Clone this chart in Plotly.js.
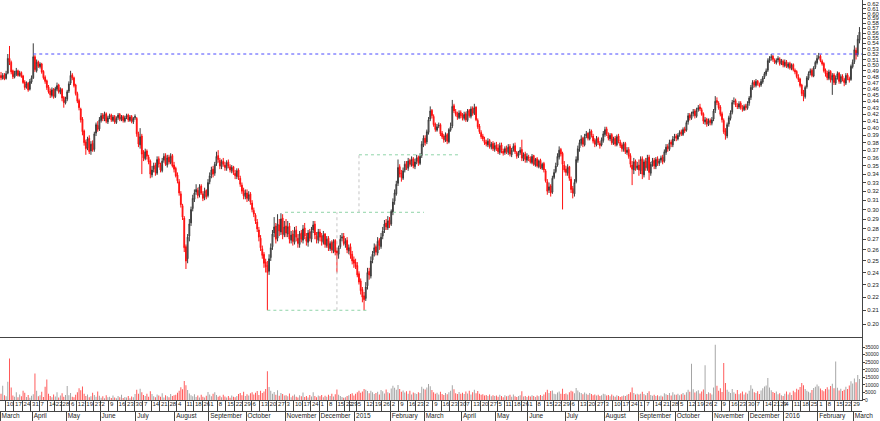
<!DOCTYPE html>
<html><head><meta charset="utf-8">
<script src="https://cdn.plot.ly/plotly-3.0.1.min.js"></script>
<style>html,body{margin:0;padding:0;background:#fff}#chart{width:880px;height:421px}</style>
</head><body><div id="chart"></div>
<script>
// ---- data: daily candles, first trading day 2014-03-05 (UK calendar) ----
const startDate = '2014-03-05';
const holidays = ['2014-04-18','2014-04-21','2014-05-05','2014-05-26','2014-08-25','2014-12-25','2014-12-26',
  '2015-01-01','2015-04-03','2015-04-06','2015-05-04','2015-05-25','2015-08-31','2015-12-25','2015-12-28','2016-01-01'];

const open = [
.482,.477,.483,.477,.486,.512,.505,.490,.479,.484,.490,.482,.487,.481,.471,.462,.469,.459,.471,
.478,.515,.490,.506,.497,.502,.489,.479,.473,.463,.456,.449,.459,.447,.459,.466,.454,.459,.446,.437,
.443,.456,.469,.483,.478,.466,.452,.441,.428,.413,.396,.381,.373,.386,.369,.379,.371,.393,.404,.399,
.411,.419,.413,.421,.409,.416,.419,.411,.417,.408,.415,.420,.412,.417,.410,.416,.419,.411,.417,.409,.415,
.414,.392,.377,.389,.366,.359,.369,.361,.356,.339,.346,.351,.341,.359,.351,.344,.357,.363,.351,.361,.354,.363,.351,
.347,.339,.331,.317,.304,.291,.263,.252,.273,.286,.301,.311,.319,.321,.316,.326,.317,.313,.321,.315,
.331,.339,.346,.341,.353,.363,.357,.349,.356,.351,.347,.355,.349,.344,.349,.341,.337,.345,.335,.327,.321,.314,
.318,.311,.317,.307,.299,.294,.287,.279,.271,.261,.256,.249,.246,.241,.253,.263,.276,.283,.271,.284,.277,.291,.274,
.283,.275,.283,.269,.275,.267,.279,.271,.265,.276,.269,.281,.272,.267,.277,.270,.279,.285,.273,.269,
.277,.273,.267,.275,.264,.271,.261,.267,.259,.269,.259,.256,.263,.271,.273,.265,.269,.259,.263,.256,.251,
.249,.246,.239,.233,.226,.221,.219,.229,.241,.237,.251,.257,.263,.257,.269,.263,.273,.279,.286,.281,.289,
.285,.297,.309,.317,.329,.349,.341,.335,.345,.353,.347,.357,.351,.359,.349,.356,.361,.353,.363,.377,
.386,.381,.394,.413,.426,.417,.406,.397,.403,.405,.393,.389,.383,.391,.381,.397,.403,.433,.424,.421,.415,.423,
.419,.414,.421,.411,.426,.417,.429,.421,.431,.411,.403,.394,.389,.384,.381,.377,.383,.374,.379,.371,
.377,.373,.367,.377,.369,.367,.373,.367,.375,.364,.371,.376,.367,.363,.367,.371,.359,.365,.357,
.361,.359,.354,.363,.351,.359,.349,.357,.347,.353,.344,.331,.321,.326,.319,.336,.343,.351,.361,.371,.366,.351,
.346,.341,.349,.334,.323,.317,.331,.357,.373,.379,.386,.377,.389,.393,.385,.396,.389,.383,.377,.386,.379,.377,.383,
.391,.399,.391,.385,.391,.379,.386,.377,.389,.381,.377,.371,.379,.367,.371,.363,.351,.345,.356,.347,
.351,.344,.359,.339,.356,.347,.361,.341,.353,.357,.349,.359,.353,.357,.361,.356,.367,.375,.371,.381,.377,.386,
.389,.385,.391,.395,.391,.399,.397,.409,.419,.414,.421,.425,.417,.427,.431,.427,.421,.409,.413,.405,.411,.407,
.413,.426,.441,.437,.431,.421,.411,.396,.389,.406,.414,.423,.439,.441,.433,.431,.437,.429,.427,.433,.429,
.437,.446,.461,.471,.465,.473,.467,.466,.471,.479,.484,.491,.507,.513,.516,.509,.504,.509,.511,.503,.507,
.499,.506,.497,.503,.494,.501,.491,.489,.479,.476,.466,.453,.447,.463,.477,.486,.491,.481,.496,.504,
.513,.516,.507,.503,.491,.486,.477,.489,.474,.483,.469,.479,.486,.471,.481,.475,.469,.483,.477,.475,.497,
.506,.527,.519,.546];

const high = [
.488,.486,.486,.490,.520,.535,.508,.492,.490,.495,.492,.490,.489,.483,.474,.472,.471,.476,.482,
.540,.518,.510,.508,.505,.504,.491,.482,.475,.466,.460,.462,.461,.463,.470,.468,.462,.461,.448,.447,
.458,.472,.490,.486,.480,.468,.455,.444,.430,.416,.398,.384,.388,.390,.382,.383,.395,.408,.410,.416,
.422,.422,.424,.423,.418,.421,.421,.419,.419,.417,.422,.422,.419,.419,.418,.421,.421,.419,.419,.416,.420,
.416,.395,.400,.392,.370,.372,.371,.364,.358,.350,.354,.354,.362,.362,.354,.360,.366,.366,.364,.364,.366,.365,.355,
.349,.342,.334,.320,.306,.293,.265,.275,.290,.303,.316,.322,.328,.324,.328,.328,.320,.324,.322,.334,
.342,.349,.350,.355,.368,.370,.360,.358,.360,.355,.357,.358,.352,.351,.350,.345,.347,.347,.338,.330,.324,.322,
.322,.320,.319,.310,.302,.296,.290,.282,.274,.264,.258,.252,.250,.256,.266,.279,.292,.286,.295,.290,.296,.295,.288,
.290,.288,.286,.278,.279,.282,.283,.275,.278,.279,.284,.286,.276,.279,.280,.282,.288,.288,.277,.280,
.280,.276,.278,.276,.273,.273,.268,.269,.270,.270,.262,.264,.274,.276,.276,.271,.272,.265,.266,.259,.254,
.252,.249,.241,.235,.228,.224,.232,.244,.244,.254,.259,.266,.265,.272,.271,.276,.282,.289,.290,.293,.292,
.300,.312,.322,.332,.358,.352,.345,.348,.356,.356,.360,.359,.362,.361,.359,.364,.363,.366,.382,.390,
.390,.398,.416,.432,.428,.420,.408,.406,.408,.407,.396,.392,.394,.393,.400,.408,.442,.436,.428,.424,.426,.426,
.422,.424,.424,.428,.428,.432,.432,.436,.432,.414,.406,.397,.392,.388,.384,.386,.385,.381,.382,.380,
.381,.378,.380,.380,.372,.375,.376,.378,.378,.373,.379,.380,.369,.369,.374,.384,.367,.368,.366,
.364,.362,.365,.364,.360,.361,.358,.359,.354,.355,.346,.334,.330,.328,.338,.346,.354,.366,.375,.373,.368,.356,
.350,.352,.350,.337,.326,.334,.362,.376,.384,.390,.388,.392,.396,.394,.399,.398,.392,.386,.389,.388,.382,.387,.396,
.402,.402,.394,.393,.393,.388,.389,.391,.392,.384,.380,.381,.381,.374,.374,.366,.356,.360,.358,.355,
.358,.362,.362,.358,.360,.364,.364,.355,.360,.360,.361,.362,.359,.363,.364,.371,.378,.378,.384,.384,.389,.392,
.392,.393,.397,.398,.401,.402,.411,.422,.422,.424,.428,.428,.430,.434,.436,.430,.423,.416,.415,.414,.414,.416,
.428,.448,.446,.440,.434,.424,.414,.400,.408,.418,.426,.442,.446,.444,.437,.440,.440,.434,.435,.436,.440,
.448,.466,.474,.474,.476,.474,.470,.476,.481,.488,.494,.512,.516,.520,.518,.512,.512,.516,.514,.511,.510,
.510,.509,.505,.506,.503,.503,.494,.491,.484,.478,.468,.458,.465,.481,.489,.494,.494,.498,.508,.518,
.522,.519,.510,.505,.494,.490,.492,.491,.486,.486,.482,.489,.488,.484,.484,.478,.486,.486,.480,.501,.510,
.536,.532,.556,.572];

const low = [
.474,.475,.474,.475,.484,.500,.484,.476,.477,.481,.480,.480,.478,.468,.458,.460,.455,.457,.468,
.476,.488,.487,.495,.494,.485,.475,.468,.458,.452,.445,.446,.444,.445,.456,.452,.451,.440,.430,.435,
.440,.453,.466,.474,.462,.449,.437,.426,.408,.390,.376,.364,.370,.365,.364,.368,.368,.389,.395,.396,
.408,.410,.410,.407,.406,.413,.409,.409,.406,.406,.412,.410,.410,.408,.408,.413,.409,.409,.407,.406,.412,
.388,.374,.372,.340,.356,.357,.358,.352,.335,.336,.342,.338,.339,.348,.342,.342,.354,.350,.348,.352,.352,.348,.342,
.336,.329,.315,.302,.289,.258,.243,.248,.268,.283,.298,.308,.316,.312,.313,.316,.309,.310,.311,.313,
.328,.335,.336,.338,.350,.354,.346,.346,.349,.344,.344,.347,.342,.341,.339,.334,.334,.333,.325,.317,.311,.311,
.308,.309,.305,.297,.292,.285,.277,.268,.259,.252,.244,.240,.210,.238,.250,.260,.272,.266,.268,.273,.274,.270,.272,
.272,.272,.266,.266,.264,.265,.268,.262,.262,.267,.266,.270,.264,.263,.268,.267,.276,.270,.266,.266,
.268,.264,.265,.262,.262,.259,.259,.257,.257,.255,.240,.252,.261,.268,.264,.262,.257,.256,.252,.247,.244,
.243,.236,.230,.222,.216,.210,.217,.226,.234,.235,.248,.254,.255,.255,.260,.261,.270,.276,.279,.279,.281,
.283,.294,.305,.315,.326,.336,.331,.333,.342,.345,.344,.349,.349,.347,.346,.352,.350,.351,.360,.374,
.376,.378,.391,.410,.414,.402,.395,.395,.400,.389,.385,.380,.381,.378,.379,.395,.400,.422,.417,.412,.413,.414,
.411,.411,.409,.409,.415,.414,.418,.419,.410,.399,.392,.385,.382,.377,.375,.374,.372,.371,.369,.368,
.369,.365,.364,.366,.363,.364,.365,.364,.362,.361,.368,.365,.359,.360,.364,.356,.356,.354,.354,
.356,.353,.352,.350,.349,.348,.347,.346,.345,.342,.330,.316,.318,.314,.317,.334,.341,.349,.358,.362,.300,.342,
.338,.338,.332,.318,.312,.314,.329,.354,.368,.376,.374,.375,.386,.383,.383,.387,.379,.374,.375,.377,.372,.375,.380,
.388,.389,.383,.382,.377,.377,.375,.375,.379,.373,.368,.368,.365,.364,.359,.348,.327,.340,.344,.345,
.338,.340,.334,.336,.344,.344,.333,.338,.349,.346,.346,.350,.350,.354,.352,.354,.364,.368,.369,.374,.374,.382,
.382,.383,.388,.389,.389,.393,.395,.405,.411,.412,.417,.414,.415,.424,.425,.418,.406,.405,.402,.403,.404,.404,
.410,.422,.434,.427,.417,.408,.392,.384,.386,.402,.411,.420,.435,.431,.428,.428,.427,.424,.425,.426,.427,
.433,.442,.458,.462,.462,.465,.462,.463,.468,.476,.481,.488,.504,.508,.506,.502,.501,.505,.499,.500,.496,
.496,.495,.494,.492,.491,.489,.484,.477,.471,.462,.448,.440,.444,.460,.474,.482,.479,.479,.493,.501,
.510,.505,.499,.487,.480,.474,.474,.470,.450,.466,.466,.475,.468,.468,.472,.464,.466,.474,.470,.473,.494,
.502,.510,.515,.540];

const close = [
.478,.482,.476,.485,.512,.505,.488,.480,.485,.490,.482,.486,.480,.470,.462,.468,.458,.472,.478,
.515,.492,.505,.498,.502,.488,.478,.472,.462,.455,.450,.458,.448,.460,.465,.455,.458,.445,.438,.442,
.455,.468,.482,.478,.465,.452,.440,.430,.412,.395,.380,.372,.385,.368,.378,.370,.392,.405,.398,.412,
.418,.414,.420,.410,.415,.418,.412,.416,.409,.414,.419,.413,.416,.411,.415,.418,.412,.416,.410,.414,.417,
.392,.378,.388,.365,.360,.368,.362,.355,.340,.345,.350,.342,.358,.352,.345,.356,.362,.352,.360,.355,.362,.350,.346,
.338,.332,.318,.305,.292,.262,.250,.272,.285,.300,.312,.318,.322,.315,.325,.318,.312,.320,.314,.330,
.338,.345,.340,.352,.362,.358,.350,.355,.352,.348,.354,.350,.345,.348,.342,.338,.344,.336,.328,.320,.315,.318,
.312,.316,.308,.300,.295,.288,.280,.272,.262,.255,.248,.245,.240,.252,.262,.275,.282,.270,.285,.278,.290,.275,.282,
.276,.282,.270,.274,.268,.278,.272,.266,.275,.270,.280,.273,.268,.276,.271,.278,.284,.274,.270,.277,
.272,.268,.274,.265,.270,.262,.266,.260,.268,.258,.255,.262,.270,.272,.266,.268,.260,.262,.255,.250,.248,
.245,.238,.232,.225,.220,.218,.228,.240,.238,.250,.256,.262,.258,.268,.264,.272,.278,.285,.282,.288,.284,
.298,.308,.318,.328,.348,.340,.336,.344,.352,.348,.356,.352,.358,.350,.355,.360,.354,.362,.378,.386,
.380,.395,.412,.425,.418,.405,.398,.402,.404,.392,.388,.384,.390,.382,.398,.402,.432,.425,.420,.416,.422,.418,
.415,.420,.412,.425,.418,.428,.422,.430,.412,.402,.395,.388,.385,.380,.378,.382,.375,.378,.372,.376,
.372,.368,.376,.370,.366,.372,.368,.374,.365,.370,.375,.368,.362,.366,.370,.360,.364,.358,.362,
.360,.355,.362,.352,.358,.350,.356,.348,.352,.345,.332,.320,.325,.318,.335,.342,.350,.362,.370,.365,.352,.345,
.342,.348,.335,.322,.318,.330,.358,.372,.380,.385,.378,.388,.392,.386,.395,.390,.382,.378,.385,.380,.376,.384,.392,
.398,.392,.386,.390,.380,.385,.378,.388,.382,.376,.372,.378,.368,.370,.362,.352,.346,.355,.348,.350,
.345,.358,.340,.355,.348,.360,.342,.352,.356,.350,.358,.354,.356,.360,.355,.368,.374,.372,.380,.378,.385,.388,
.386,.390,.394,.392,.398,.396,.408,.418,.415,.420,.424,.418,.426,.430,.428,.420,.410,.412,.406,.410,.408,.412,
.425,.440,.438,.430,.420,.412,.395,.390,.405,.415,.422,.438,.440,.434,.432,.436,.430,.428,.432,.430,.436,
.445,.462,.470,.466,.472,.468,.465,.472,.478,.485,.490,.508,.512,.515,.510,.505,.508,.512,.502,.508,.500,
.505,.498,.502,.495,.500,.492,.488,.480,.475,.465,.452,.448,.462,.478,.485,.490,.482,.495,.505,.512,
.515,.508,.502,.490,.485,.478,.488,.475,.482,.470,.478,.485,.472,.480,.476,.470,.482,.478,.474,.498,.505,
.528,.518,.548,.562];

const volume = [
4200,9500,3100,2500,12000,27500,8200,3000,2200,5200,1800,3600,2400,6100,4800,2000,3300,1500,2800,
3800,17500,6200,2400,3100,5400,2000,8800,13500,4200,2600,1900,3700,2300,5100,1600,2900,4400,2100,3300,
9200,3100,4600,2200,1800,3500,5200,7800,6400,8900,4100,2700,3600,1900,2500,4800,3300,2100,5600,2800,
1500,2400,1200,3100,1800,2200,1400,2900,1700,1100,2600,1900,3400,1300,2000,1600,2700,1200,2300,1800,3900,
6800,4200,7500,5100,3300,2600,4100,2200,5800,3900,2400,1800,3600,2900,2100,4500,1700,3200,2500,1900,4000,2700,3100,
3500,4800,6200,8400,7100,12500,9800,6600,4300,3100,2500,3800,2000,2900,1700,3400,2200,1600,2800,5300,
3600,2400,4100,5200,3300,2100,2800,1900,3500,2300,1700,2600,1500,3000,2200,1800,2700,3900,4600,3100,5400,2600,
3800,2900,4400,5100,3700,4800,5900,3300,6100,4700,5600,7200,19000,8600,6200,4100,5300,3500,6400,2800,4600,3900,3000,
3200,2500,4300,1900,2800,3600,2200,1700,3100,2400,4900,2000,2700,1600,3300,2300,5100,2600,1800,2900,
2400,3300,1900,2800,2100,3500,2600,4200,2300,3800,6900,3400,2700,2000,1500,1800,2600,3100,3900,4500,2900,
4100,5200,6100,4800,5600,7300,6800,5900,4400,6200,5100,3900,4700,5500,3600,6600,5800,4300,6900,5200,4500,
7600,9400,8100,6800,9900,7200,5400,6300,4900,5800,4200,6100,3700,5000,4400,3900,5200,4600,8700,7400,
6900,8200,10500,9100,6600,5200,4100,4800,3600,5500,4000,3300,4700,3800,5100,6200,9700,7100,4500,3900,5300,4200,
4800,3900,5600,4300,6100,3700,5200,6800,4500,5900,4100,3400,3800,2900,3300,2600,3600,2400,3100,2700,
2900,2200,3400,2600,1900,3100,2400,2800,3500,2100,3700,2500,2000,2700,3200,5800,2300,2600,2000,
2800,2300,3100,2600,2000,2900,2400,3300,2700,3600,5100,6800,4700,5900,6300,4200,3800,4900,5600,4100,7400,3900,
4300,3600,5200,6100,5700,4400,7900,6300,5100,4600,3800,5000,4200,3500,4700,3900,3200,3700,2900,3400,2600,3100,4100,
3800,2900,3300,2500,3600,2800,2200,3100,2600,2000,2400,3000,2700,3500,3900,5200,8300,4600,3700,4200,
3600,4100,5400,3900,3100,4700,5800,3300,2800,3500,2600,3200,2400,2900,2300,4400,3800,3300,4600,3000,5100,3700,
3400,4200,3100,3800,4600,3500,5200,6800,5500,24000,7100,4900,5800,6400,4300,5600,6900,23000,3900,5100,4400,3600,
8200,36500,9400,6100,7700,5300,24500,11200,6800,5400,4700,7300,5100,4200,6600,3800,4500,5700,3600,4900,4100,
6200,9800,7400,5100,4600,5800,3900,6300,7700,8900,9600,14500,8200,6400,5300,4700,5600,3800,4400,3200,2600,
4100,5600,3700,4900,3300,6200,5100,7400,6800,8600,11300,9700,7200,6100,5400,4800,6600,7900,8800,10200,
9100,7600,6400,5800,7200,8400,6900,9300,10800,7700,25500,8100,6300,7400,5900,6800,8700,7300,9600,12400,10900,
14200,11800,16500,13900];

const monthNames = ['January','February','March','April','May','June','July','August','September','October','November','December'];
const priceTicks = [0.20,0.21,0.22,0.23,0.24,0.25,0.26,0.27,0.28,0.29,0.30,0.31,0.32,0.33,0.34,0.35,0.36,0.37,0.38,0.39,0.40,
  0.41,0.42,0.43,0.44,0.45,0.46,0.47,0.48,0.49,0.50,0.51,0.52,0.53,0.54,0.55,0.56,0.57,0.58,0.59,0.60,0.61,0.62];
const volumeTicks = [0,5000,10000,15000,20000,25000,30000,35000];

// drawn guide lines (trading-day index positions, price levels)
const guideX = [[19,507.5],[157,216.3],[198,198],[167.4,249.3],[211,211],[211,271.1]];
const guideY = [[0.52,0.52],[0.21,0.21],[0.21,0.297],[0.297,0.297],[0.297,0.364],[0.364,0.364]];
const guideKind = ['blue','green','grey','green','grey','green'];

// ---- build trading calendar ----
const N = close.length;
if (![open,high,low,volume].every(a=>a.length===N)) {
  throw new Error('length mismatch '+[open.length,high.length,low.length,close.length,volume.length].join(','));
}
const dates = [];
{
  const d = new Date(startDate+'T00:00:00Z');
  while (dates.length < N) {
    const wd = d.getUTCDay();
    const s = d.toISOString().slice(0,10);
    if (wd!==0 && wd!==6 && holidays.indexOf(s)<0) dates.push(new Date(d.getTime()));
    d.setUTCDate(d.getUTCDate()+1);
  }
}
const idx = dates.map((_,i)=>i);
const weekVals=[], weekText=[], monthVals=[], monthText=[];
dates.forEach((d,i)=>{
  if (i>0) {
    const p = dates[i-1];
    if ((d - p) > 3*86400000 || d.getUTCDay() < p.getUTCDay()) { weekVals.push(i); weekText.push(String(d.getUTCDate())); }
  }
  if (i===0 || d.getUTCMonth()!==dates[i-1].getUTCMonth()) {
    monthVals.push(i);
    monthText.push(d.getUTCMonth()===0 ? String(d.getUTCFullYear()) : monthNames[d.getUTCMonth()]);
  }
});

const FONT = 'Liberation Sans, Arial, sans-serif';
const traces = [];
traces.push({
  type:'candlestick', x: idx, open: open, high: high, low: low, close: close,
  xaxis:'x', yaxis:'y', whiskerwidth:0,
  increasing:{line:{color:'#3a3a3a',width:1}, fillcolor:'#a8a8a8'},
  decreasing:{line:{color:'#ff1010',width:1}, fillcolor:'#ff1010'},
  hoverinfo:'skip'
});
traces.push({
  type:'bar', x: idx, y: volume, xaxis:'x2', yaxis:'y2', width:0.55,
  marker:{color: close.map((c,i)=> c>=open[i] ? '#a0a0a0' : '#ff5050'), line:{width:0}},
  hoverinfo:'skip'
});
const guideColors = {blue:'#4a4aff', green:'#8fd4a8', grey:'#c4c4c4'};
guideX.forEach((gx,k)=>{
  traces.push({type:'scatter', mode:'lines', x: gx, y: guideY[k], xaxis:'x', yaxis:'y',
    line:{color: guideColors[guideKind[k]], width:1, dash:'dot'}, hoverinfo:'skip'});
});

const xr = [-0.6, 507.5];
const layout = {
  width:880, height:421, margin:{l:0,r:18,t:0,b:10}, paper_bgcolor:'#fff', plot_bgcolor:'#fff',
  showlegend:false, font:{family:FONT, size:6, color:'#222'},
  xaxis:{domain:[0,1], range:xr, anchor:'free', position:0, rangeslider:{visible:false},
    showgrid:false, zeroline:false, showline:true, linecolor:'#444', linewidth:1,
    tickmode:'array', tickvals: monthVals, ticktext: monthText, ticks:'', tickangle:0,
    ticklabelposition:'outside right', ticklabelstandoff:-2, tickfont:{size:6.5, color:'#222', family:FONT},
    minor:{tickmode:'array', tickvals: monthVals.map(v=>v-0.5), ticks:'outside', ticklen:10, tickcolor:'#444', showgrid:false}},
  xaxis2:{domain:[0,1], range:xr, matches:'x', anchor:'y2', showgrid:false, zeroline:false,
    showline:true, mirror:true, linecolor:'#444', linewidth:1,
    tickmode:'array', tickvals: weekVals, ticktext: weekText, ticks:'', tickangle:0,
    ticklabelposition:'outside right', ticklabelstandoff:-2, tickfont:{size:6, color:'#222', family:FONT},
    minor:{tickmode:'array', tickvals: weekVals.map(v=>v-0.5), ticks:'outside', ticklen:11, tickcolor:'#444', showgrid:false}},
  yaxis:{type:'log', domain:[0.17762,1], range:[Math.log10(0.19036), Math.log10(0.6295)], side:'right', anchor:'x',
    showgrid:false, zeroline:false, showline:true, linecolor:'#444', linewidth:1,
    tickmode:'array', tickvals: priceTicks, ticktext: priceTicks.map(v=>v.toFixed(2)),
    ticks:'outside', ticklen:3, tickcolor:'#444', tickfont:{size:6, color:'#222', family:FONT}},
  yaxis2:{domain:[0.026764,0.17762], range:[0,41000], side:'right', anchor:'x2',
    showgrid:false, zeroline:false, showline:true, linecolor:'#444', linewidth:1,
    tickmode:'array', tickvals: volumeTicks, ticktext: volumeTicks.map(String),
    ticks:'outside', ticklen:2, ticklabelstandoff:-1, tickcolor:'#444', tickfont:{size:5, color:'#222', family:FONT}}
};
Plotly.newPlot('chart', traces, layout, {staticPlot:true, displayModeBar:false});
</script></body></html>
